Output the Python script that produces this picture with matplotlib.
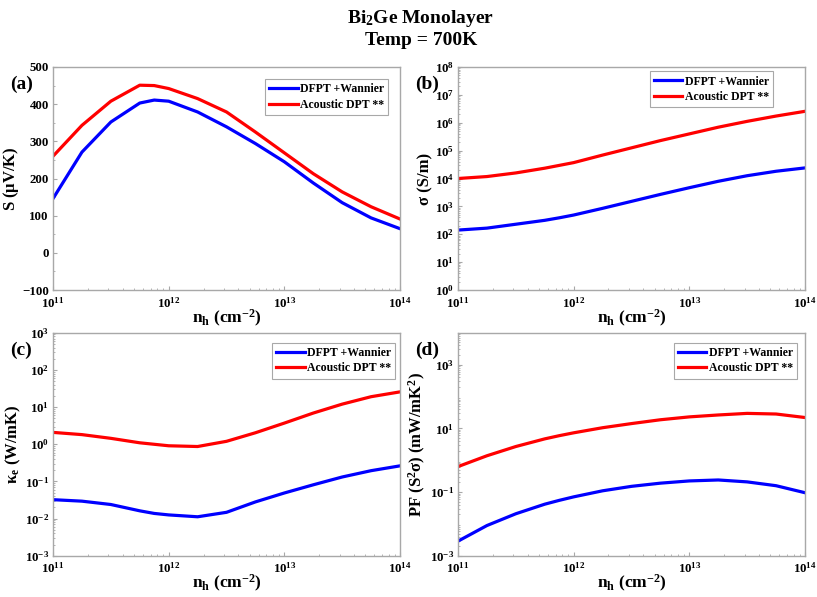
import matplotlib
matplotlib.use("Agg")
import matplotlib.pyplot as plt
import numpy as np
from matplotlib.ticker import LogLocator, MultipleLocator, NullFormatter

plt.rcParams['font.family'] = ['Liberation Serif', 'DejaVu Serif']
plt.rcParams['font.weight'] = 'bold'
plt.rcParams['mathtext.fontset'] = 'custom'
plt.rcParams['mathtext.rm'] = 'Liberation Serif:bold'
plt.rcParams['mathtext.it'] = 'Liberation Serif:bold'
plt.rcParams['mathtext.bf'] = 'Liberation Serif:bold'
plt.rcParams['mathtext.default'] = 'bf'

# carrier concentration, log10(n_h / cm^-2)
log_nh = [11.0, 11.25, 11.5, 11.75, 11.875, 12.0, 12.25, 12.5, 12.75, 13.0, 13.25, 13.5, 13.75, 14.0]

# (a) Seebeck coefficient (uV/K)
S_dfpt = [146, 271, 352, 403, 411, 408, 379, 339, 294, 245, 188, 135, 94, 65]
S_adp = [260, 343, 408, 451, 450, 442, 415, 379, 325, 269, 213, 164, 124, 91]
# (b) log10 sigma (S/m)
sig_dfpt = [2.15, 2.22, 2.36, 2.5, 2.59, 2.69, 2.93, 3.18, 3.43, 3.67, 3.9, 4.1, 4.26, 4.38]
sig_adp = [4.0, 4.07, 4.2, 4.37, 4.47, 4.57, 4.84, 5.1, 5.36, 5.6, 5.84, 6.05, 6.24, 6.41]
# (c) log10 kappa_e (W/mK)
ke_dfpt = [-1.49, -1.53, -1.62, -1.79, -1.86, -1.9, -1.95, -1.83, -1.55, -1.31, -1.09, -0.88, -0.71, -0.58]
ke_adp = [0.32, 0.26, 0.16, 0.04, 0.0, -0.04, -0.06, 0.08, 0.31, 0.57, 0.84, 1.08, 1.28, 1.41]
# (d) log10 PF (mW/mK^2)
pf_dfpt = [-2.54, -2.05, -1.68, -1.38, -1.26, -1.15, -0.96, -0.82, -0.72, -0.65, -0.62, -0.68, -0.8, -1.02]
pf_adp = [-0.2, 0.14, 0.43, 0.67, 0.77, 0.86, 1.02, 1.15, 1.27, 1.36, 1.42, 1.47, 1.45, 1.34]

# y ticks per panel
yticks_a = [-100, 0, 100, 200, 300, 400, 500]
yticks_b = [1e0, 1e1, 1e2, 1e3, 1e4, 1e5, 1e6, 1e7, 1e8]
yticks_c = [1e-3, 1e-2, 1e-1, 1e0, 1e1, 1e2, 1e3]
yticks_d = [1e-3, 1e-1, 1e1, 1e3]
xticks = [1e11, 1e12, 1e13, 1e14]

nh = 10.0 ** np.array(log_nh)

fig = plt.figure(figsize=(8.17, 5.97), dpi=100)
fig.text(0.515, 0.986, 'Bi$_2$Ge Monolayer', ha='center', va='top', fontsize=14, fontweight='bold')
fig.text(0.515, 0.947, 'Temp = 700K', ha='center', va='top', fontsize=14, fontweight='bold')

W, H = 0.4247, 0.3736
positions = [(0.0649, 0.5142), (0.5606, 0.5142), (0.0649, 0.0690), (0.5606, 0.0690)]
panels = [
    ('(a)', S_dfpt, S_adp, False, r'S ($\mathbf{\mu}$V/K)', yticks_a, (-100, 500)),
    ('(b)', sig_dfpt, sig_adp, True, 'σ (S/m)', yticks_b, (1e0, 1e8)),
    ('(c)', ke_dfpt, ke_adp, True, 'κ$_e$ (W/mK)', yticks_c, (1e-3, 1e3)),
    ('(d)', pf_dfpt, pf_adp, True, 'PF (S$^2$σ) (mW/mK$^2$)', yticks_d, (1e-3, 1e4)),
]
# legend anchors (axes fraction, upper right corner of box)
leg_anchor = [(0.966, 0.945), (0.908, 0.98), (0.986, 0.955), (0.977, 0.955)]
gray = '#a8a8a8'

for i, (lab, yb, yr, logy, ylab, yt, ylim) in enumerate(panels):
    ax = fig.add_axes([positions[i][0], positions[i][1], W, H])
    if logy:
        ax.plot(nh, 10.0 ** np.array(yb), color='blue', lw=2.3, label='DFPT +Wannier')
        ax.plot(nh, 10.0 ** np.array(yr), color='red', lw=2.3, label='Acoustic DPT **')
        ax.set_yscale('log')
    else:
        ax.plot(nh, yb, color='blue', lw=2.3, label='DFPT +Wannier')
        ax.plot(nh, yr, color='red', lw=2.3, label='Acoustic DPT **')
    ax.set_xscale('log')
    ax.set_xticks(xticks)
    ax.set_xlim(1e11, 1e14)
    ax.xaxis.set_minor_locator(LogLocator(base=10, subs=np.arange(2, 10), numticks=20))
    ax.xaxis.set_minor_formatter(NullFormatter())

    ax.set_yticks(yt)
    ax.set_ylim(*ylim)
    if logy:
        ax.yaxis.set_minor_locator(LogLocator(base=10, subs=np.arange(2, 10), numticks=20))
    else:
        ax.yaxis.set_minor_locator(MultipleLocator(50))
    ax.yaxis.set_minor_formatter(NullFormatter())

    for sp in ax.spines.values():
        sp.set_color(gray)
        sp.set_linewidth(1.0)
    ax.tick_params(which='both', direction='in', color=gray, labelsize=9.3)
    ax.tick_params(axis='x', pad=4)
    ax.tick_params(axis='y', pad=3)
    ax.tick_params(which='major', length=3)
    ax.tick_params(which='minor', length=1.5)
    for t in ax.get_xticklabels() + ax.get_yticklabels():
        t.set_fontweight('bold')

    ax.set_xlabel('n$_h$ (cm$^{-2}$)', fontsize=12.5, fontweight='bold', labelpad=-2)
    ax.set_ylabel(ylab, fontsize=12, fontweight='bold', labelpad=1)
    ax.text(-0.125, 0.92, lab, transform=ax.transAxes, fontsize=14, fontweight='bold',
            ha='left', va='center')

    leg = ax.legend(loc='upper right', bbox_to_anchor=leg_anchor[i], fancybox=False,
                    framealpha=1, edgecolor=gray, handlelength=2.4, handletextpad=0.2,
                    borderpad=0.35, labelspacing=0.3, borderaxespad=0,
                    prop={'family': 'Liberation Serif', 'weight': 'bold', 'size': 8.5})
    leg.get_frame().set_linewidth(0.8)

fig.savefig('out.png', dpi=100)
